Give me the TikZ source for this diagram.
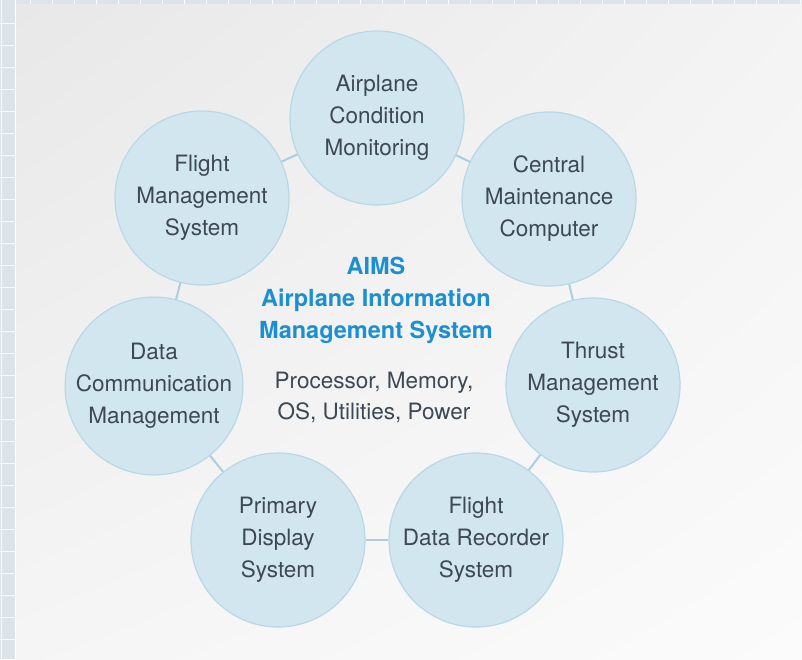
\documentclass[tikz,border=0pt]{standalone}
\usepackage{fontspec}
\setmainfont{TeX Gyre Heros}
\usetikzlibrary{shadings}
\definecolor{stripbg}{HTML}{DCE3E9}
\definecolor{panelA}{HTML}{E8E8E8}
\definecolor{panelB}{HTML}{FBFBFB}
\definecolor{cfill}{HTML}{D2E6F0}
\definecolor{cdraw}{HTML}{B9D8E6}
\definecolor{clink}{HTML}{A8CEDF}
\definecolor{ctext}{HTML}{3E4852}
\definecolor{ctitle}{HTML}{1B8FD2}
\tikzset{
  x=1pt, y=-1pt,
  sys/.style={circle, minimum size=174pt, inner sep=0pt, fill=cfill, draw=cdraw, line width=1.2pt,
    align=center, text=ctext, font=\fontsize{22.5}{32}\selectfont},
  link/.style={draw=clink, line width=2pt},
  title/.style={align=center, text=ctitle, font=\bfseries\fontsize{23.5}{32}\selectfont},
  sub/.style={align=center, text=ctext, font=\fontsize{22.5}{31}\selectfont}
}
\begin{document}
\begin{tikzpicture}
\useasboundingbox (0,0) rectangle (802,659);
% left grid strip and top strip
\fill[stripbg] (0,0) rectangle (16,659);
\fill[stripbg] (0,0) rectangle (802,4);
\foreach \yy in {23,45,...,659} \draw[white, line width=1pt] (0,\yy) -- (16,\yy);
\draw[white, line width=1pt] (1.5,0) -- (1.5,659);
\draw[white, line width=1pt] (15,0) -- (15,659);
\foreach \xx in {30,52,...,802} \draw[white, line width=1pt] (\xx,0) -- (\xx,4);
% panel
\shade[upper left=panelA, upper right=panelB!60!panelA, lower left=panelB!70!panelA, lower right=panelB] (16,4) rectangle (802,659);
% circles
\node[sys] (acm) at (377,118) {Airplane\\Condition\\Monitoring};
\node[sys] (cmc) at (549,199) {Central\\Maintenance\\Computer};
\node[sys] (tms) at (593,385) {Thrust\\Management\\System};
\node[sys] (fdr) at (476,540) {Flight\\Data Recorder\\System};
\node[sys] (pds) at (278,540) {Primary\\Display\\System};
\node[sys] (dcm) at (154,386) {Data\\Communication\\Management};
\node[sys] (fms) at (202,198) {Flight\\Management\\System};
% links
\path[link] (acm) -- (cmc);
\path[link] (cmc) -- (tms);
\path[link] (tms) -- (fdr);
\path[link] (fdr) -- (pds);
\path[link] (pds) -- (dcm);
\path[link] (dcm) -- (fms);
\path[link] (fms) -- (acm);
% centre text
\node[title] (aims) at (376,300) {AIMS\\Airplane Information\\Management System};
\node[sub] (core) at (374,397) {Processor, Memory,\\OS, Utilities, Power};
\end{tikzpicture}
\end{document}
